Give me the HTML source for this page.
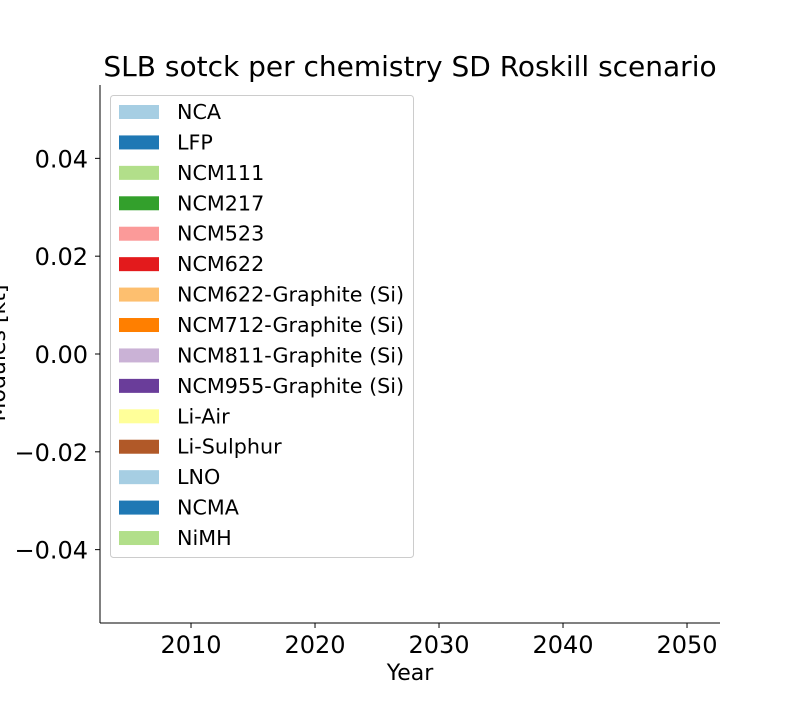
<!DOCTYPE html>
<html><head><meta charset="utf-8"><style>
body{margin:0;background:#fff;}
svg text{font-family:"DejaVu Sans","Liberation Sans",sans-serif;fill:#000;}
</style></head><body>
<svg id="chart" width="800" height="700" xmlns="http://www.w3.org/2000/svg">
<text x="410" y="76" font-size="28" text-anchor="middle">SLB sotck per chemistry SD Roskill scenario</text>
<g id="axes"></g>
<text x="410" y="680" font-size="22" text-anchor="middle">Year</text>
<text transform="translate(5,353) rotate(-90)" font-size="22" text-anchor="middle">Modules [kt]</text>
<g id="legend"></g>
</svg>
<script>
const xTicks=[2010,2020,2030,2040,2050];
const yTicks=[0.04,0.02,0.00,-0.02,-0.04];
const yTickLabels=["0.04","0.02","0.00","\u22120.02","\u22120.04"];
const chemistries=["NCA","LFP","NCM111","NCM217","NCM523","NCM622","NCM622-Graphite (Si)","NCM712-Graphite (Si)","NCM811-Graphite (Si)","NCM955-Graphite (Si)","Li-Air","Li-Sulphur","LNO","NCMA","NiMH"];
const colors=["#a6cee3","#1f78b4","#b2df8a","#33a02c","#fb9a99","#e31a1c","#fdbf6f","#ff7f00","#cab2d6","#6a3d9a","#ffff99","#b15928","#a6cee3","#1f78b4","#b2df8a"];
const NS="http://www.w3.org/2000/svg";
const L=100,R=720,T=85,B=623,x0=2002.66,x1=2052.66,y0=-0.055,y1=0.055;
const sx=v=>L+(v-x0)/(x1-x0)*(R-L);
const sy=v=>B-(v-y0)/(y1-y0)*(B-T);
function mk(t,a,p){const e=document.createElementNS(NS,t);for(const k in a)e.setAttribute(k,a[k]);p.appendChild(e);return e;}
const ax=document.getElementById('axes');
let e=mk('line',{x1:L,y1:T,x2:L,y2:B,stroke:'#000','stroke-width':1},ax);


e=mk('line',{x1:L,y1:B,x2:R,y2:B,stroke:'#000','stroke-width':1},ax);


xTicks.forEach(v=>{const x=sx(v);
 mk('line',{x1:x,y1:B,x2:x,y2:B+5,stroke:'#000'},ax);
 const t=mk('text',{x:x,y:B+30,'font-size':24,'text-anchor':'middle'},ax);t.textContent=v;
 
 });
yTicks.forEach((v,i)=>{const y=sy(v);
 mk('line',{x1:L-5,y1:y,x2:L,y2:y,stroke:'#000'},ax);
 const t=mk('text',{x:L-12,y:y+9,'font-size':24,'text-anchor':'end'},ax);t.textContent=yTickLabels[i];
 
 });
const lg=document.getElementById('legend');
mk('rect',{x:110.5,y:95.5,width:303,height:462,rx:3,fill:'#fff','fill-opacity':0.8,stroke:'#ccc'},lg);
chemistries.forEach((c,i)=>{const y=112+i*30.43;
 const r=mk('rect',{x:119,y:y-7,width:40,height:14,fill:colors[i]},lg);
 
 
 const t=mk('text',{x:177,y:y+7,'font-size':20.7},lg);t.textContent=c;
 
 });
</script>
</body></html>
